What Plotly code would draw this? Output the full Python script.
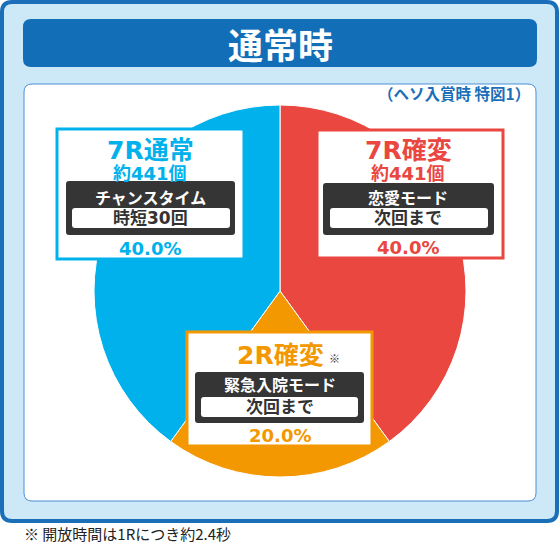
import plotly.graph_objects as go

# ---- data ----
slice_labels = ["7R確変", "2R確変", "7R通常"]
slice_values = [40.0, 20.0, 40.0]
slice_colors = ["#e9473f", "#f39800", "#00b1ec"]

box_titles = ["7R通常", "7R確変", "2R確変"]
box_counts = ["約441個", "約441個", ""]
box_modes = ["チャンスタイム", "恋愛モード", "緊急入院モード"]
box_next = ["時短30回", "次回まで", "次回まで"]
box_pcts = ["40.0%", "40.0%", "20.0%"]
box_colors = ["#00b1ec", "#e9473f", "#f39800"]

title_text = "通常時"
sub_text = "（ヘソ入賞時 特図1）"
foot_text = "※ 開放時間は1Rにつき約2.4秒"

W, H = 560, 543
FONT = "DejaVu Sans, Noto Sans CJK JP"
FONT_CJK = "Noto Sans CJK JP"


def rr(x0, y0, x1, y1, r):
    return (f"M{x0+r},{y0} L{x1-r},{y0} Q{x1},{y0} {x1},{y0+r} "
            f"L{x1},{y1-r} Q{x1},{y1} {x1-r},{y1} L{x0+r},{y1} "
            f"Q{x0},{y1} {x0},{y1-r} L{x0},{y0+r} Q{x0},{y0} {x0+r},{y0} Z")


fig = go.Figure()
fig.add_trace(go.Scatter(x=[0], y=[0], mode="markers", marker=dict(opacity=0),
                         showlegend=False, hoverinfo="skip"))
fig.add_trace(go.Pie(
    labels=slice_labels, values=slice_values, sort=False, direction="clockwise",
    rotation=0, marker=dict(colors=slice_colors, line=dict(color="white", width=1)),
    textinfo="none", hoverinfo="skip", showlegend=False,
    domain=dict(x=[93 / W, 467 / W], y=[1 - 477 / H, 1 - 105 / H]),
))

shapes = []
# frame
shapes.append(dict(type="path", path=rr(2, 2, 557, 521, 10), fillcolor="#cde9f7",
                   line=dict(color="#1a6fb8", width=4), layer="below"))
shapes.append(dict(type="path", path=rr(23, 19, 537, 67, 8), fillcolor="#116eb7",
                   line=dict(width=0), layer="below"))
shapes.append(dict(type="path", path=rr(24, 84, 536, 501, 8), fillcolor="white",
                   line=dict(color="#4d8fd6", width=1), layer="below"))

# label boxes: outer, dark, inner white
outer = [(57, 129, 244, 259), (317, 130, 503, 258), (187, 332, 372, 446)]
dark = [(66, 181, 235, 235), (323, 183, 494, 235), (195, 372, 364, 423)]
inner = [(72, 208, 230, 228), (330, 208, 488, 228), (201, 397, 358, 417)]
for i in range(3):
    x0, y0, x1, y1 = outer[i]
    shapes.append(dict(type="rect", x0=x0, y0=y0, x1=x1, y1=y1, fillcolor="white",
                       line=dict(color=box_colors[i], width=3), layer="above"))
    shapes.append(dict(type="path", path=rr(*dark[i], 3), fillcolor="#353535",
                       line=dict(width=0), layer="above"))
    shapes.append(dict(type="path", path=rr(*inner[i], 3), fillcolor="white",
                       line=dict(width=0), layer="above"))
for s in shapes:
    s["xref"] = "x"
    s["yref"] = "y"

ann = []


def t(x, y, text, size, color, bold=True, xanchor="center", family=FONT):
    ann.append(dict(x=x, y=y, xref="x", yref="y", text=(f"<b>{text}</b>" if bold else text),
                    showarrow=False, xanchor=xanchor, yanchor="middle", borderpad=0,
                    font=dict(family=family, size=size, color=color)))


t(280, 43, title_text, 35, "white", family=FONT_CJK)
t(531, 93, sub_text, 15.5, "#1a6fb8", xanchor="right", family=FONT_CJK)
t(23, 533, foot_text, 15, "#222222", bold=False, xanchor="left", family=FONT_CJK)

cx = [150, 408, 280]
ys = [
    dict(title=150, count=173, mode=197, nxt=218, pct=248),
    dict(title=150, count=173, mode=197, nxt=218, pct=247),
    dict(title=355, count=None, mode=384, nxt=407, pct=435),
]
for i in range(3):
    c = box_colors[i]
    t(cx[i], ys[i]["title"], box_titles[i], 25, c)
    if box_counts[i]:
        t(cx[i], ys[i]["count"], box_counts[i], 18, c)
    t(cx[i], ys[i]["mode"], box_modes[i], 16, "white", family=FONT_CJK)
    t(cx[i], ys[i]["nxt"], box_next[i], 17, "#333333")
    t(cx[i], ys[i]["pct"], box_pcts[i], 18, c)
t(334, 358, "※", 11, "#333333", family=FONT_CJK)

fig.update_layout(
    width=W, height=H, margin=dict(l=0, r=0, t=0, b=0),
    paper_bgcolor="white", plot_bgcolor="rgba(0,0,0,0)",
    xaxis=dict(range=[0, W], visible=False, fixedrange=True, domain=[0, 1]),
    yaxis=dict(range=[H, 0], visible=False, fixedrange=True, domain=[0, 1]),
    shapes=shapes, annotations=ann, showlegend=False,
)
fig.write_html("out.html", config=dict(displayModeBar=False),
               post_script="document.body.style.margin='0';document.body.style.padding='0';"
                           "document.body.style.overflow='hidden';")
